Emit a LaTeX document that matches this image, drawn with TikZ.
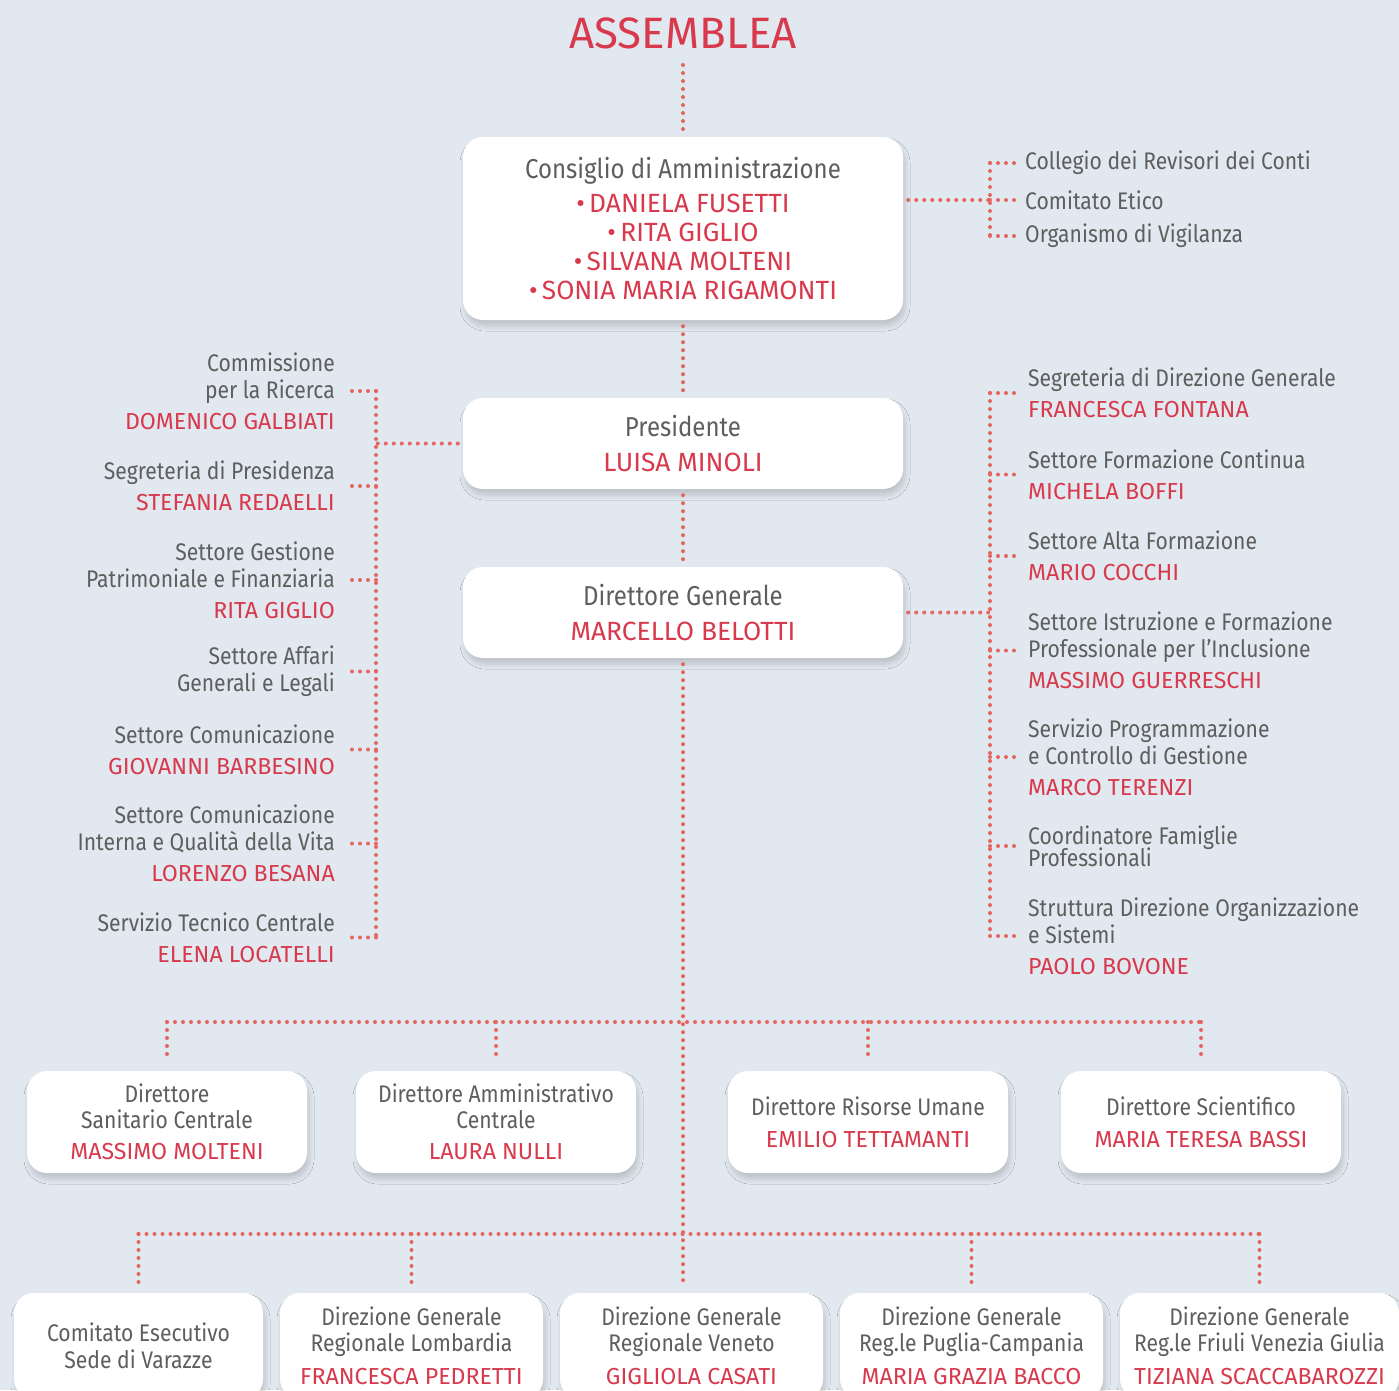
\documentclass[tikz,border=0pt]{standalone}
\usepackage{fontspec}
\setmainfont{Fira Sans}[FakeStretch=0.88]
\newfontfamily\namefont{Fira Sans}[Scale=0.965]
\usepackage{tikz}
\usetikzlibrary{positioning,shadows.blur}
\definecolor{bgblue}{HTML}{E1E8EF}
\definecolor{txtgray}{HTML}{5E5E5E}
\definecolor{namered}{HTML}{D8394C}
\definecolor{dotred}{HTML}{E5655F}
\newcommand{\nm}[1]{{\namefont\color{namered}#1}}

\begin{document}
\begin{tikzpicture}[x=1pt,y=-1pt,
  every node/.style={text=txtgray,font=\fontsize{24}{27}\selectfont},
  box/.style={fill=white,rounded corners=20pt,align=center,inner sep=0pt,
    blur shadow={shadow xshift=2pt,shadow yshift=-6pt,shadow blur radius=5pt,shadow blur steps=10,shadow opacity=16}},
  topbox/.style={box,minimum width=440pt,font=\fontsize{27.3}{29}\selectfont},
  dots/.style={draw=dotred,line width=4pt,line cap=round,dash pattern=on 0pt off 8pt}]
  \fill[bgblue] (0,0) rectangle (1399,1390);
  \useasboundingbox (0,0) rectangle (1399,1390);

  %top
  \node[font=\fontsize{45.5}{46}\selectfont] (ass) at (683,33) {\nm{ASSEMBLEA}};
  \node[topbox,minimum height=183pt] (cda) at (683,228.5)
    {Consiglio di Amministrazione\\[5pt]\nm{\textbullet\,DANIELA FUSETTI}\\\nm{\textbullet\,RITA GIGLIO}\\\nm{\textbullet\,SILVANA MOLTENI}\\\nm{\textbullet\,SONIA MARIA RIGAMONTI}};
  \node[topbox,minimum height=91pt] (pres) at (683,443.5) {Presidente\\[6pt]\nm{LUISA MINOLI}};
  \node[topbox,minimum height=91pt] (dg) at (683,612.5) {Direttore Generale\\[6pt]\nm{MARCELLO BELOTTI}};

  %controllo
  \node[anchor=west,inner sep=0pt] (coll) at (1025,163) {Collegio dei Revisori dei Conti};
  \node[anchor=west,inner sep=0pt] (etico) at (1025,200) {Comitato Etico};
  \node[anchor=west,inner sep=0pt] (odv) at (1025,236) {Organismo di Vigilanza};
  \coordinate (cbus) at (990,0);

  %staff presidente
  \begin{scope}[every node/.append style={anchor=east,align=right,inner sep=0pt}]
  \node (ric) at (335,391) {Commissione\\per la Ricerca\\[4pt]\nm{DOMENICO GALBIATI}};
  \node (segpres) at (335,486) {Segreteria di Presidenza\\[4pt]\nm{STEFANIA REDAELLI}};
  \node (patr) at (335,580) {Settore Gestione\\Patrimoniale e Finanziaria\\[4pt]\nm{RITA GIGLIO}};
  \node (affari) at (335,671.5) {Settore Affari\\Generali e Legali};
  \node (comest) at (335,749.5) {Settore Comunicazione\\[4pt]\nm{GIOVANNI BARBESINO}};
  \node (comint) at (335,843.5) {Settore Comunicazione\\Interna e Qualità della Vita\\[4pt]\nm{LORENZO BESANA}};
  \node (tecnico) at (335,937.5) {Servizio Tecnico Centrale\\[4pt]\nm{ELENA LOCATELLI}};
  \end{scope}
  \coordinate (lbus) at (376,0);

  %staff direttore generale
  \begin{scope}[every node/.append style={anchor=west,align=left,inner sep=0pt}]
  \node (segdg) at (1028,393) {Segreteria di Direzione Generale\\[4pt]\nm{FRANCESCA FONTANA}};
  \node (formcont) at (1028,474.5) {Settore Formazione Continua\\[4pt]\nm{MICHELA BOFFI}};
  \node (altaform) at (1028,556) {Settore Alta Formazione\\[4pt]\nm{MARIO COCCHI}};
  \node (istr) at (1028,650.5) {Settore Istruzione e Formazione\\Professionale per l’Inclusione\\[4pt]\nm{MASSIMO GUERRESCHI}};
  \node (progr) at (1028,757) {Servizio Programmazione\\e Controllo di Gestione\\[4pt]\nm{MARCO TERENZI}};
  \node (coord) at (1028,846) {Coordinatore Famiglie\\[-5pt]Professionali};
  \node (strutt) at (1028,936) {Struttura Direzione Organizzazione\\e Sistemi\\[4pt]\nm{PAOLO BOVONE}};
  \end{scope}
  \coordinate (rbus) at (990,0);

  %direttori
  \begin{scope}[every node/.append style={box,minimum width=280pt,minimum height=102pt,font=\fontsize{24}{26}\selectfont}]
  \node (dsan) at (167,1122) {Direttore\\Sanitario Centrale\\[5pt]\nm{MASSIMO MOLTENI}};
  \node (damm) at (496,1122) {Direttore Amministrativo\\Centrale\\[5pt]\nm{LAURA NULLI}};
  \node (dru) at (868,1122) {Direttore Risorse Umane\\[6pt]\nm{EMILIO TETTAMANTI}};
  \node (dsci) at (1201,1122) {Direttore Scientifico\\[6pt]\nm{MARIA TERESA BASSI}};
  \end{scope}
  \coordinate (bus1) at (683,1022);

  %direzioni regionali
  \begin{scope}[every node/.append style={box,minimum width=263pt,minimum height=106pt,font=\fontsize{24}{26}\selectfont}]
  \node[minimum width=249pt] (cese) at (138.5,1346) {Comitato Esecutivo\\[1pt]Sede di Varazze};
  \node (lomb) at (411.5,1346) {Direzione Generale\\Regionale Lombardia\\[7pt]\nm{FRANCESCA PEDRETTI}};
  \node (ven) at (691.5,1346) {Direzione Generale\\Regionale Veneto\\[7pt]\nm{GIGLIOLA CASATI}};
  \node (pug) at (971.5,1346) {Direzione Generale\\Reg.le Puglia-Campania\\[7pt]\nm{MARIA GRAZIA BACCO}};
  \node[minimum width=279pt] (fvg) at (1259.5,1346) {Direzione Generale\\Reg.le Friuli Venezia Giulia\\[7pt]\nm{TIZIANA SCACCABAROZZI}};
  \end{scope}
  \coordinate (bus2) at (683,1234);

  %links
  \draw[dots,shorten <=32pt,shorten >=7pt] (ass.center) -- (cda.north);
  \draw[dots,shorten <=6pt,shorten >=6pt] (cda.south) -- (pres.north);
  \draw[dots,shorten <=6pt,shorten >=5pt] (pres.south) -- (dg.north);
  \draw[dots,shorten <=6pt,shorten >=8pt] (dg.south) -- (dg.south |- ven.north);

  \draw[dots,shorten <=5pt] (cda.east |- etico) -- (etico -| cbus);
  \draw[dots] (coll.west -| cbus) -- (odv.west -| cbus);
  \foreach \n in {coll,etico,odv}
    \draw[dots] (\n.west -| cbus) -- ([xshift=-8pt]\n.west);

  \draw[dots,shorten <=5pt] (pres.west) -- (pres.west -| lbus);
  \draw[dots] (ric.east -| lbus) -- (tecnico.east -| lbus);
  \foreach \n in {ric,segpres,patr,affari,comest,comint,tecnico}
    \draw[dots] ([xshift=17pt]\n.east) -- (\n.east -| lbus);

  \draw[dots,shorten <=5pt] (dg.east) -- (dg.east -| rbus);
  \draw[dots] (segdg.west -| rbus) -- (strutt.west -| rbus);
  \foreach \n in {segdg,formcont,altaform,istr,progr,coord,strutt}
    \draw[dots] (\n.west -| rbus) -- ([xshift=-11pt]\n.west);

  \draw[dots] (bus1 -| dsan.north) -- (bus1 -| dsci.north);
  \foreach \n in {dsan,damm,dru,dsci}
    \draw[dots,shorten >=11pt] (bus1 -| \n.north) -- (\n.north);

  \draw[dots] (bus2 -| cese.north) -- (bus2 -| fvg.north);
  \foreach \n in {cese,lomb,pug,fvg}
    \draw[dots,shorten >=8pt] (bus2 -| \n.north) -- (\n.north);
\end{tikzpicture}
\end{document}
